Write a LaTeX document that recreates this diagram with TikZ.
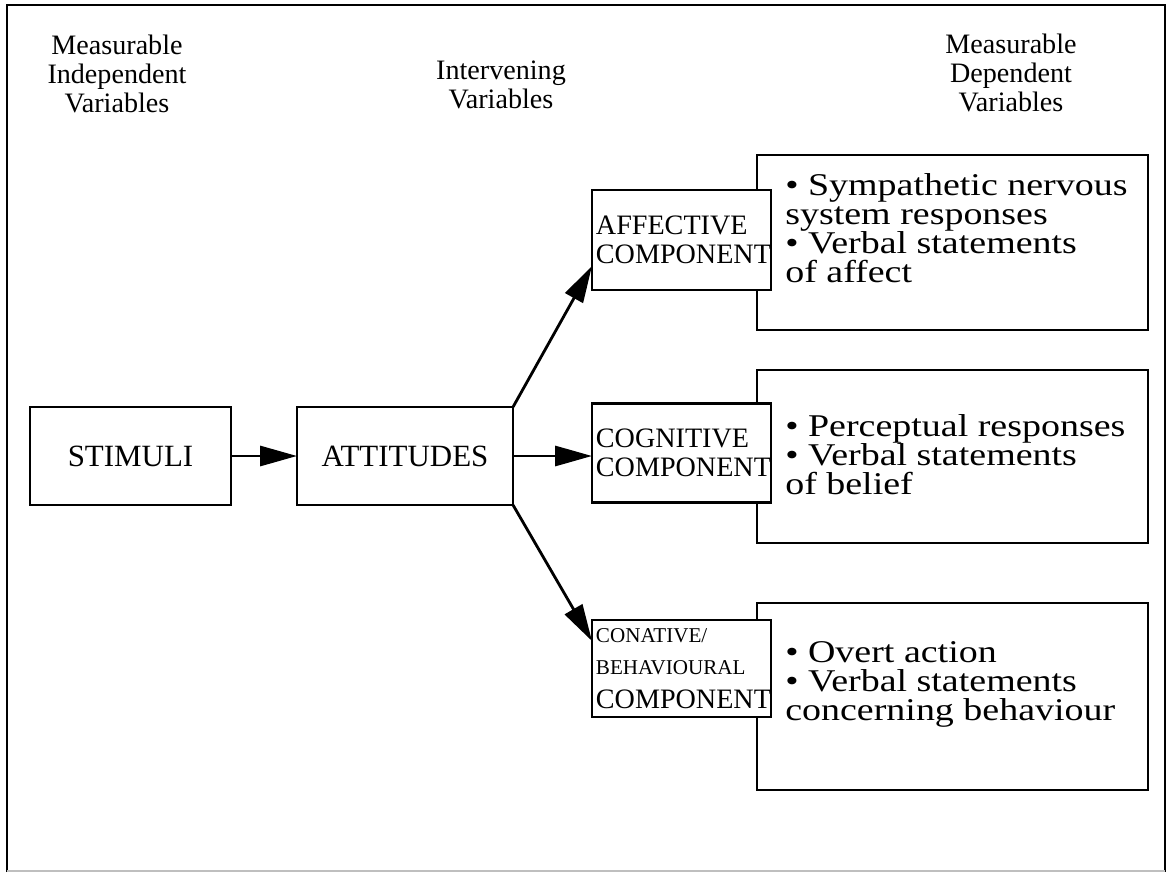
\documentclass[tikz,border=0pt]{standalone}
\usepackage{fontspec}
\setmainfont{Liberation Serif}
\newfontfamily\wideserif{Liberation Serif}[FakeStretch=1.2]
\usetikzlibrary{arrows.meta}
\begin{document}
\begin{tikzpicture}[x=0.025cm,y=-0.025cm,
  box/.style={draw,line width=2pt,fill=white,inner sep=0pt,outer sep=0pt},
  head/.style={font=\fontsize{20}{20.6}\selectfont,align=center,inner sep=0pt},
  txt/.style={font=\fontsize{22}{22}\selectfont,align=center,inner sep=0pt},
  items/.style={font=\wideserif\fontsize{22.5}{20.8}\selectfont,align=left,inner sep=0pt,anchor=north west},
  comp/.style={box,font=\fontsize{20}{21}\selectfont,align=left,text width=4.275cm,inner xsep=0.1cm,minimum width=4.475cm},
  conn/.style={line width=2pt,-{Triangle[length=0.92cm,width=0.5cm]}}
]
% page and outer frame
\useasboundingbox[fill=white] (0,0) rectangle (1171,873);
\draw[line width=1.6pt] (7,872) -- (7,5) -- (1165,5) -- (1165,872);
\draw[line width=0.8pt,black!25] (7,871) -- (1165,871);

% column headings
\node[head] (hind) at (117,74) {Measurable\\Independent\\Variables};
\node[head] (hint) at (501,85) {Intervening\\Variables};
\node[head] (hdep) at (1011,73) {Measurable\\Dependent\\Variables};

% measured responses (drawn first, the components overlap them)
\node[box,minimum width=9.775cm,minimum height=4.375cm] (r1) at (952.5,242.5) {};
\node[box,minimum width=9.775cm,minimum height=4.325cm] (r2) at (952.5,456.5) {};
\node[box,minimum width=9.775cm,minimum height=4.675cm] (r3) at (952.5,696.5) {};
\node[items] (t1) at (785,173) {• Sympathetic nervous\\system responses\\• Verbal statements\\of affect};
\node[items] (t2) at (785,414) {• Perceptual responses\\• Verbal statements\\of belief};
\node[items] (t3) at (785,641) {• Overt action\\• Verbal statements\\concerning behaviour};

% stimulus and attitude
\node[box,txt,minimum width=5.025cm,minimum height=2.45cm] (stim) at (130.5,456) {STIMULI};
\node[box,txt,minimum width=5.4cm,minimum height=2.45cm] (att) at (405,456) {ATTITUDES};

% the three components
\node[comp,minimum height=2.5cm] (aff) at (681.5,240) {AFFECTIVE\\COMPONENT};
\node[comp,minimum height=2.475cm] (cog) at (681.5,453) {COGNITIVE\\COMPONENT};
\node[comp,minimum height=2.425cm] (con) at (681.5,668.5) {{\fontsize{15}{21}\selectfont CONATIVE/}\\[2pt]{\fontsize{15}{21}\selectfont BEHAVIOURAL}\\[3pt]COMPONENT};

% connectors
\coordinate (affin) at (aff.west |- 0,266);
\coordinate (conin) at (con.west |- 0,641);
\draw[conn] (stim.east) -- (att.west);
\draw[conn] (att.north east) -- (affin);
\draw[conn] (att.east) -- (att.east -| cog.west);
\draw[conn] (att.south east) -- (conin);
\end{tikzpicture}
\end{document}
